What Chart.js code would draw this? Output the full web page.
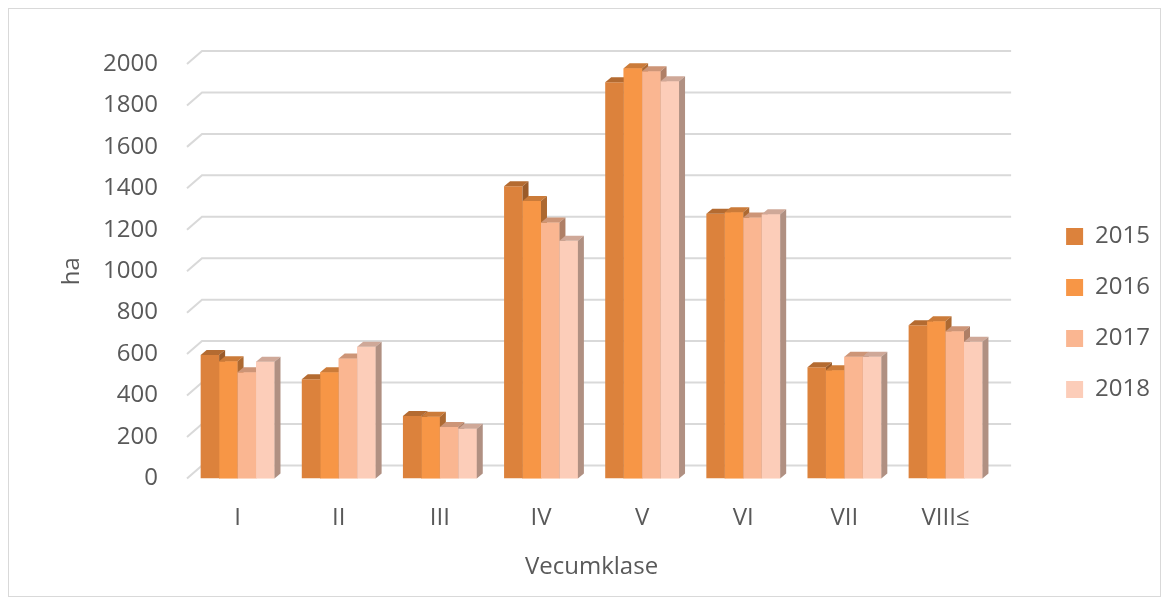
<!DOCTYPE html>
<html>
<head>
<meta charset="utf-8">
<script src="https://cdn.jsdelivr.net/npm/chart.js@4/dist/chart.umd.min.js"></script>
<style>
  html, body { margin: 0; padding: 0; background: #fff; }
  #wrap { width: 1170px; height: 605px; position: relative; }
</style>
</head>
<body>
<div id="wrap"><canvas id="ageChart" width="1170" height="605"></canvas></div>
<script>
var categories = ["I", "II", "III", "IV", "V", "VI", "VII", "VIII≤"];
var years = ["2015", "2016", "2017", "2018"];
var values2015 = [595, 478, 301, 1410, 1912, 1277, 536, 739];
var values2016 = [565, 512, 298, 1339, 1979, 1285, 522, 758];
var values2017 = [512, 579, 248, 1235, 1965, 1259, 587, 710];
var values2018 = [563, 635, 240, 1147, 1917, 1275, 587, 659];
var yTicks = [0, 200, 400, 600, 800, 1000, 1200, 1400, 1600, 1800, 2000];

var colors = ["#dc823c", "#f79646", "#fab691", "#fccdb9"];
var textColor = "#595959";
var fontFamily = "'Open Sans', 'Noto Sans', sans-serif";

function shade(hex, f) {
  var r = parseInt(hex.substr(1, 2), 16), g = parseInt(hex.substr(3, 2), 16), b = parseInt(hex.substr(5, 2), 16);
  return "rgb(" + Math.round(r * f) + "," + Math.round(g * f) + "," + Math.round(b * f) + ")";
}

// frame, back-wall grid and 3d faces of the bars
var depthX = 6, depthY = 5, wallX = 15, wallY = 13;

var frame3d = {
  id: "frame3d",
  beforeDraw: function (chart) {
    var ctx = chart.ctx;
    ctx.save();
    ctx.fillStyle = "#fff";
    ctx.fillRect(0, 0, chart.width, chart.height);
    ctx.strokeStyle = "#d9d9d9";
    ctx.lineWidth = 1;
    ctx.strokeRect(8.5, 8.5, 1152, 588);
    ctx.restore();
  },
  beforeDatasetsDraw: function (chart) {
    var ctx = chart.ctx, area = chart.chartArea, y = chart.scales.y;
    ctx.save();
    ctx.strokeStyle = "#d9d9d9";
    ctx.lineWidth = 2;
    y.ticks.forEach(function (t) {
      var py = y.getPixelForValue(t.value);
      ctx.beginPath();
      ctx.moveTo(area.left, py);
      ctx.lineTo(area.left + wallX, py - wallY);
      ctx.lineTo(area.right + wallX, py - wallY);
      ctx.stroke();
    });
    ctx.restore();
  },
  afterDatasetsDraw: function (chart) {
    var ctx = chart.ctx;
    var metas = chart.data.datasets.map(function (d, i) { return chart.getDatasetMeta(i); });
    ctx.save();
    for (var j = 0; j < categories.length; j++) {
      for (var i = 0; i < metas.length; i++) {
        var bar = metas[i].data[j];
        var col = colors[i];
        var l = bar.x - bar.width / 2, r = bar.x + bar.width / 2, t = bar.y, b = bar.base;
        if (i > 0) {
          ctx.fillStyle = col;
          ctx.fillRect(l, t, r - l, b - t);
        }
        ctx.fillStyle = shade(col, 0.82);
        ctx.beginPath();
        ctx.moveTo(l, t);
        ctx.lineTo(l + depthX, t - depthY);
        ctx.lineTo(r + depthX, t - depthY);
        ctx.lineTo(r, t);
        ctx.closePath();
        ctx.fill();
        ctx.fillStyle = shade(col, 0.7);
        ctx.beginPath();
        ctx.moveTo(r, t);
        ctx.lineTo(r + depthX, t - depthY);
        ctx.lineTo(r + depthX, b - depthY);
        ctx.lineTo(r, b);
        ctx.closePath();
        ctx.fill();
      }
    }
    ctx.restore();
  }
};

var seriesValues = [values2015, values2016, values2017, values2018];
var datasets = years.map(function (yr, i) {
  return {
    label: yr,
    data: seriesValues[i],
    backgroundColor: colors[i],
    borderWidth: 0,
    barPercentage: 1.0,
    categoryPercentage: 0.73
  };
});

new Chart(document.getElementById("ageChart"), {
  type: "bar",
  data: { labels: categories, datasets: datasets },
  plugins: [frame3d],
  options: {
    responsive: false,
    animation: false,
    events: [],
    layout: { padding: { left: 40, top: 40, right: 10, bottom: 19 } },
    plugins: {
      tooltip: { enabled: false },
      legend: {
        position: "right",
        labels: {
          boxWidth: 17,
          boxHeight: 17,
          padding: 27,
          color: textColor,
          font: { family: fontFamily, size: 24 }
        }
      }
    },
    scales: {
      x: {
        grid: { display: false },
        border: { display: false },
        ticks: { color: textColor, padding: 17, font: { family: fontFamily, size: 24 } },
        title: {
          display: true,
          text: "Vecumklase",
          color: textColor,
          padding: { top: 4, bottom: 4 },
          font: { family: fontFamily, size: 24 }
        }
      },
      topSpacer: {
        type: "linear",
        position: "top",
        display: true,
        afterFit: function (scale) { scale.height = 24; },
        grid: { display: false },
        border: { display: false },
        ticks: { display: false }
      },
      y: {
        min: 0,
        max: 2000,
        afterBuildTicks: function (scale) {
          scale.ticks = yTicks.map(function (v) { return { value: v }; });
        },
        afterFit: function (scale) { scale.width = 147; },
        grid: { display: false },
        border: { display: false },
        ticks: {
          color: textColor,
          padding: 21,
          font: { family: fontFamily, size: 24 },
          callback: function (v) { return String(v); }
        },
        title: {
          display: true,
          text: "ha",
          color: textColor,
          padding: { top: 18, bottom: 0 },
          font: { family: fontFamily, size: 24 }
        }
      },
      spacer: {
        type: "linear",
        position: "right",
        display: true,
        afterFit: function (scale) { scale.width = 43; },
        grid: { display: false },
        border: { display: false },
        ticks: { display: false }
      }
    }
  }
});
</script>
</body>
</html>
